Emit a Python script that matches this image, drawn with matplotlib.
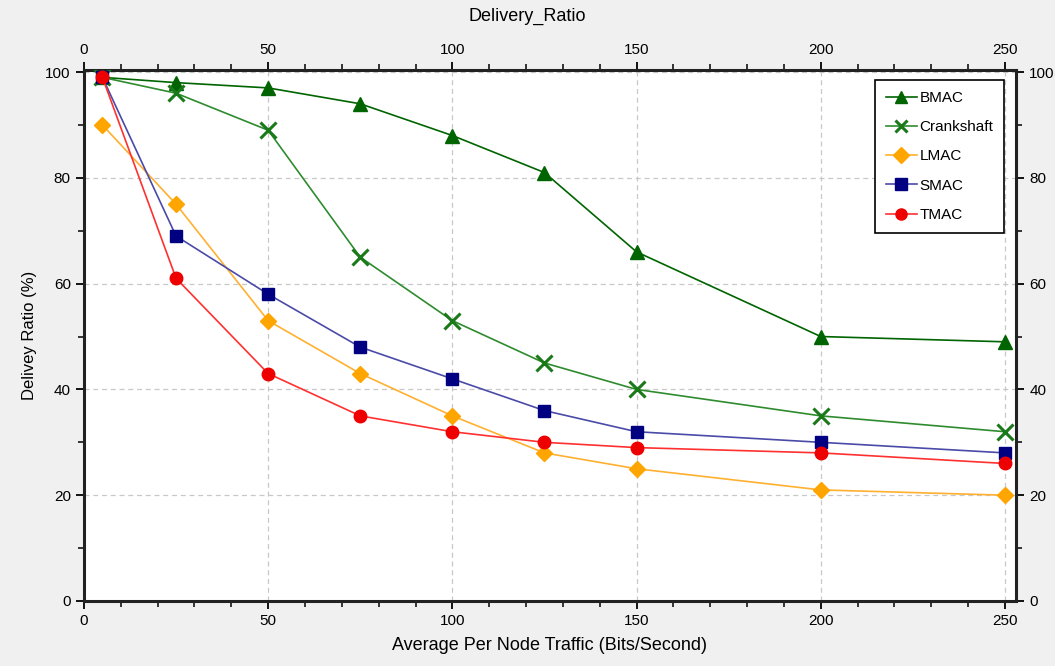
import matplotlib.pyplot as plt
from matplotlib.ticker import MultipleLocator

traffic = [5, 25, 50, 75, 100, 125, 150, 200, 250]
bmac = [99, 98, 97, 94, 88, 81, 66, 50, 49]
crankshaft = [99, 96, 89, 65, 53, 45, 40, 35, 32]
lmac = [90, 75, 53, 43, 35, 28, 25, 21, 20]
smac = [99, 69, 58, 48, 42, 36, 32, 30, 28]
tmac = [99, 61, 43, 35, 32, 30, 29, 28, 26]

plt.rcParams['font.family'] = ['Liberation Sans', 'DejaVu Sans']

fig = plt.figure(figsize=(10.55, 6.66), dpi=100, facecolor='#f0f0f0')
ax = fig.add_axes([0.0796, 0.0976, 0.8834, 0.7974])
ax.set_facecolor('white')

series = [
    ('BMAC', bmac, '#006400', '#006400', '^', 10),
    ('Crankshaft', crankshaft, '#2e8b2e', '#1a7a1a', 'x', 11),
    ('LMAC', lmac, '#ffb030', '#ffa500', 'D', 8),
    ('SMAC', smac, '#4a4aa8', '#000080', 's', 9),
    ('TMAC', tmac, '#ff3030', '#ee0000', 'o', 9),
]
for name, vals, lc, mc, mk, ms in series:
    ax.plot(traffic, vals, color=lc, linewidth=1.2, marker=mk, markersize=ms,
            markerfacecolor=mc, markeredgecolor=mc, markeredgewidth=2.2 if mk == 'x' else 1,
            label=name, zorder=3)

ax.set_xlim(0, 253)
ax.set_ylim(0, 100.4)
ax.xaxis.set_major_locator(MultipleLocator(50))
ax.xaxis.set_minor_locator(MultipleLocator(10))
ax.yaxis.set_major_locator(MultipleLocator(20))
ax.yaxis.set_minor_locator(MultipleLocator(10))
ax.grid(True, which='major', color='#c8c8c8', linestyle=(0, (4, 3)), linewidth=0.9)
ax.set_axisbelow(True)

for s in ax.spines.values():
    s.set_linewidth(2.2)
    s.set_color('#222222')

ax.tick_params(which='both', direction='out', labelsize=11, colors='black',
               top=True, right=True, labeltop=True, labelright=True)
ax.tick_params(which='major', length=6, width=1.3)
ax.tick_params(which='minor', length=4, width=1.1)

ax.set_xlabel('Average Per Node Traffic (Bits/Second)', fontsize=13, labelpad=6)
ax.set_ylabel('Delivey Ratio (%)', fontsize=12, labelpad=6)
fig.text(0.5, 0.975, 'Delivery_Ratio', ha='center', va='center', fontsize=13)

leg = ax.legend(loc='upper right', fontsize=11, frameon=True, fancybox=False,
                borderpad=0.7, labelspacing=1.0, handlelength=2.0, handletextpad=0.2,
                bbox_to_anchor=(0.9955, 0.995))
leg.get_frame().set_edgecolor('black')
leg.get_frame().set_linewidth(1.2)
leg.get_frame().set_alpha(1)
for h in leg.legend_handles:
    h.set_markersize(8)

fig.savefig('out.png', dpi=100, facecolor=fig.get_facecolor())
